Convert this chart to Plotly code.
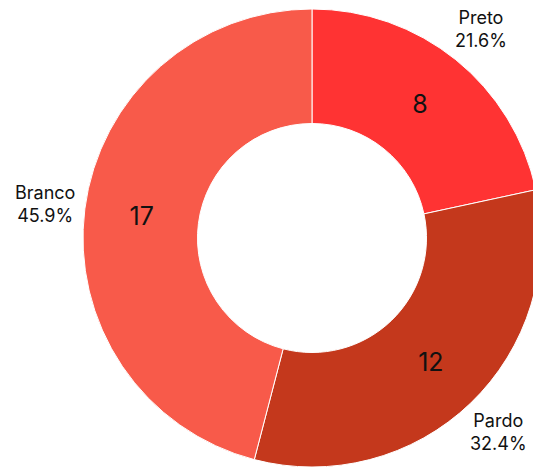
import math
import plotly.graph_objects as go

labels = ["Preto", "Pardo", "Branco"]
values = [8, 12, 17]
colors = ["#FF3333", "#C4381C", "#F85A4A"]

# page body has an 8px margin, so the figure is sized to the visible area
W, H = 533, 460
dom = dict(x=[0.1407, 1.0], y=[0.0, 1.0])

fig = go.Figure()
fig.add_trace(go.Pie(
    labels=labels, values=values, sort=False, direction="clockwise", rotation=0,
    hole=0.5, domain=dom,
    marker=dict(colors=colors, line=dict(color="white", width=1)),
    textinfo="value", textposition="inside", insidetextorientation="horizontal",
    insidetextfont=dict(size=25, color="#111111", family="Inter"),
    showlegend=False, hoverinfo="skip",
))

# outside labels placed at each slice's mid-angle, derived from the data
total = sum(values)
cx = (dom["x"][0] + dom["x"][1]) / 2
cy = (dom["y"][0] + dom["y"][1]) / 2
r_px = min((dom["x"][1] - dom["x"][0]) * W, (dom["y"][1] - dom["y"][0]) * H) / 2
label_r = r_px * 1.175
cum = 0
for lab, v in zip(labels, values):
    mid = (cum + v / 2) / total
    cum += v
    ang = math.radians(90 - 360 * mid)
    fig.add_annotation(
        x=cx + label_r * math.cos(ang) / W,
        y=cy + label_r * math.sin(ang) / H,
        xref="paper", yref="paper", xanchor="center", yanchor="middle",
        text=f"{lab}<br>{v / total * 100:.1f}%", showarrow=False,
        font=dict(size=18, color="#111111", family="Inter"),
    )

fig.update_layout(
    width=W, height=H, margin=dict(l=0, r=0, t=0, b=0),
    paper_bgcolor="white", plot_bgcolor="white",
    font=dict(family="Inter"),
)
fig.write_html("out.html")
